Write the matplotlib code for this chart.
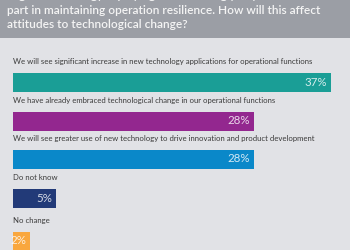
import matplotlib
matplotlib.use("Agg")
import matplotlib.pyplot as plt
import matplotlib.patches as mpatches

# survey answers and shares (%)
LABELS = [
    "We will see significant increase in new technology applications for operational functions",
    "We have already embraced technological change in our operational functions",
    "We will see greater use of new technology to drive innovation and product development",
    "Do not know",
    "No change",
]
VALUES = [37, 28, 28, 5, 2]
COLORS = ["#1a9e96", "#93278f", "#0a88c9", "#223a78", "#f9a73e"]

TITLE_LINES = [
    "Digital technology is playing an increasingly key",
    "part in maintaining operation resilience. How will this affect",
    "attitudes to technological change?",
]

W, H = 350, 250
BG = "#e1e2e6"
HEADER = "#9b9ea5"
ROW_Y = [82, 121, 159, 198, 241]   # bar centres in pixels from top
BAR_H = 19
PX_PER_PCT = 8.6
LEFT = 13

fig = plt.figure(figsize=(W / 100, H / 100), dpi=100)
fig.patch.set_facecolor(BG)

# header band
fig.patches.append(mpatches.Rectangle((0, 1 - 38 / H), 1, 38 / H,
                                      transform=fig.transFigure,
                                      facecolor=HEADER, edgecolor="none", zorder=0))
for i, line in enumerate(TITLE_LINES):
    fig.text(7 / W, 1 - (-4.5 + 14.5 * i) / H, line, ha="left", va="center",
             color="#f4f4f4", fontsize=8.6, family="Lato", fontweight="semibold")

ax = fig.add_axes([LEFT / W, 0, 1 - LEFT / W, 1])
ax.set_facecolor("none")
ax.set_xlim(0, (W - LEFT) / PX_PER_PCT)
ax.set_ylim(H, 0)
ax.axis("off")

ax.barh(ROW_Y, VALUES, height=BAR_H, color=COLORS, align="center")

for y, lab, v in zip(ROW_Y, LABELS, VALUES):
    ax.text(0, y - 20.5, lab, ha="left", va="center", color="#3a3a3a",
            fontsize=5.6, family="Lato", fontweight="normal")
    ax.text(v - 0.45, y, f"{v}%", ha="right", va="center",
            color="white", alpha=0.82, fontsize=8.3, family="Lato", fontweight="normal")

fig.savefig("out.png", dpi=100, facecolor=BG)
